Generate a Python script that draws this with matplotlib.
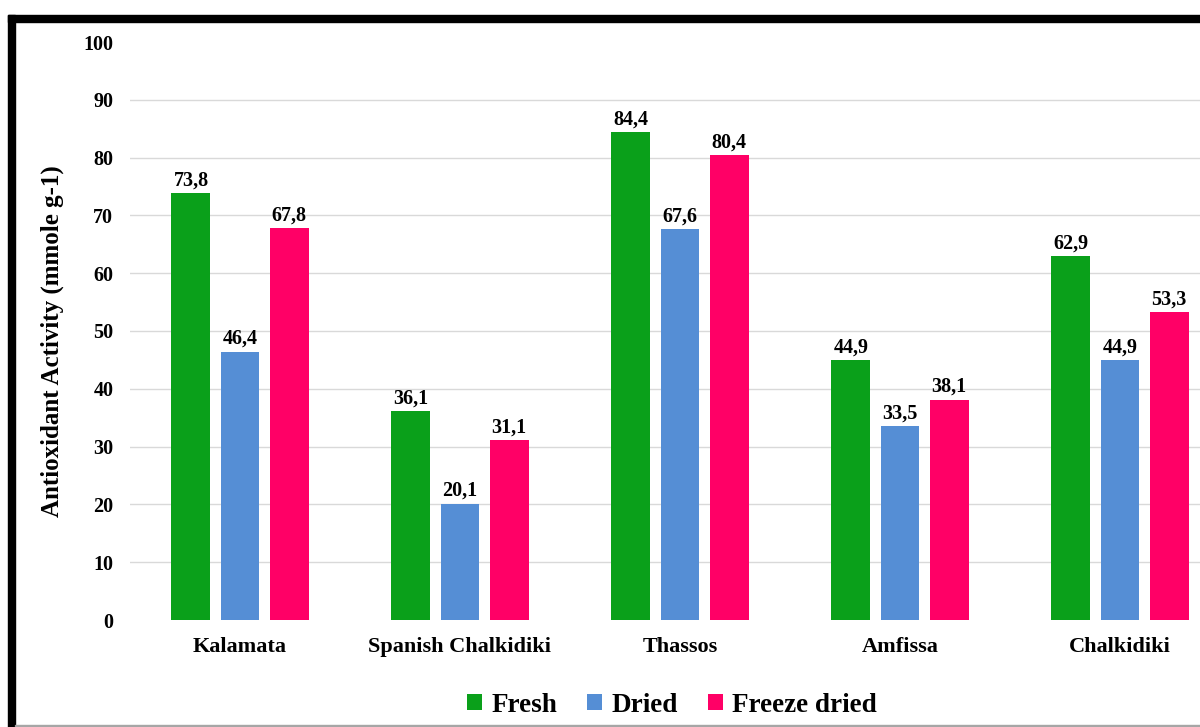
import matplotlib.pyplot as plt
from matplotlib.patches import Rectangle
import numpy as np

plt.rcParams['font.family'] = ['Liberation Serif', 'DejaVu Serif']
plt.rcParams['font.weight'] = 'bold'

varieties = ['Kalamata', 'Spanish Chalkidiki', 'Thassos', 'Amfissa', 'Chalkidiki']
fresh = [73.8, 36.1, 84.4, 44.9, 62.9]
dried = [46.4, 20.1, 67.6, 33.5, 44.9]
freeze_dried = [67.8, 31.1, 80.4, 38.1, 53.3]
series_names = ['Fresh', 'Dried', 'Freeze dried']
colors = ['#0AA01A', '#558ED5', '#FF0066']

fig = plt.figure(figsize=(12, 7.27), dpi=100)
# plot area runs off the right edge, like the cropped original
ax = fig.add_axes([130 / 1200, 1 - 620 / 727, 1100 / 1200, 578 / 727])

x = np.arange(len(varieties))
step = 0.223
width = 0.177
for i, (vals, name, c) in enumerate(zip([fresh, dried, freeze_dried], series_names, colors)):
    bars = ax.bar(x + (i - 1) * step, vals, width, color=c, label=name, zorder=2)
    for b, v in zip(bars, vals):
        ax.annotate(f'{v:.1f}'.replace('.', ','), (b.get_x() + b.get_width() / 2, v),
                    xytext=(0, 2), textcoords='offset points', ha='center', va='bottom',
                    fontsize=14.5, fontweight='bold')

ax.set_xlim(-0.5, len(varieties) - 0.5)
ax.set_ylim(0, 100)
ax.set_yticks(range(0, 101, 10))
ax.set_xticks(x)
ax.set_xticklabels(varieties, fontsize=16, fontweight='bold')
ax.tick_params(axis='y', labelsize=14.5, length=0, pad=12)
ax.tick_params(axis='x', length=0, pad=12)
ax.yaxis.grid(True, color='#D9D9D9', linewidth=1, zorder=0)
gl = ax.get_ygridlines()
gl[0].set_visible(False)
gl[-1].set_visible(False)
for s in ax.spines.values():
    s.set_visible(False)

fig.text(52 / 1200, 1 - 341 / 727, 'Antioxidant Activity (mmole g-1)', rotation=90,
         ha='center', va='center', fontsize=18, fontweight='bold')

fig.legend(loc='center', bbox_to_anchor=(672 / 1200, 1 - 705 / 727), ncol=3, frameon=False,
           prop={'size': 19.5, 'weight': 'bold'}, handlelength=0.55, handleheight=0.55,
           handletextpad=0.35, columnspacing=1.1)

# black frame at top and left, thin gray line at bottom
fig.patches.append(Rectangle((8 / 1200, 1 - 22 / 727), 1, 7 / 727, transform=fig.transFigure,
                             color='black', zorder=5))
fig.patches.append(Rectangle((8 / 1200, 0), 7 / 1200, 1 - 15 / 727, transform=fig.transFigure,
                             color='black', zorder=5))
fig.patches.append(Rectangle((15 / 1200, 1 / 727), 1, 1.5 / 727, transform=fig.transFigure,
                             color='#A6A6A6', zorder=5))

fig.savefig('out.png', dpi=100)
